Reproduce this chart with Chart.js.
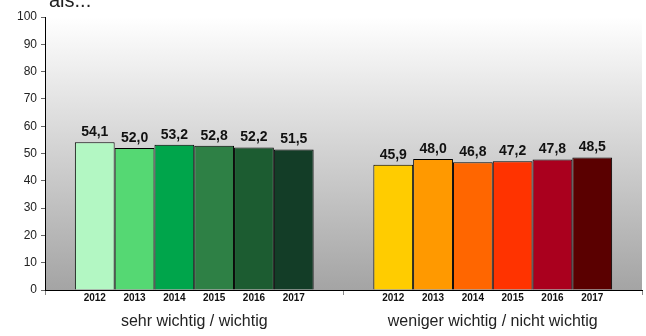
<!DOCTYPE html>
<html lang="de">
<head>
<meta charset="UTF-8">
<title>sehr wichtig / weniger wichtig</title>
<script src="https://cdn.jsdelivr.net/npm/chart.js"></script>
<style>
    html, body { margin: 0; padding: 0; background: #fff; }
    #wrap { position: relative; width: 646px; height: 336px; }
</style>
</head>
<body>
<div id="wrap"><canvas id="chart" width="646" height="336"></canvas></div>
<script>
// data
const categories = ['sehr wichtig / wichtig', 'weniger wichtig / nicht wichtig'];
const years = ['2012', '2013', '2014', '2015', '2016', '2017'];
const wichtig = [54.1, 52.0, 53.2, 52.8, 52.2, 51.5];
const nichtWichtig = [45.9, 48.0, 46.8, 47.2, 47.8, 48.5];
const yTicks = [0, 10, 20, 30, 40, 50, 60, 70, 80, 90, 100];
const greens = ['#b3f7c3', '#55d873', '#00a54b', '#2e8045', '#1c5c31', '#133d27'];
const reds = ['#ffcc00', '#ff9900', '#ff6600', '#ff3300', '#aa001e', '#5a0000'];
const titleText = 'als...';

const datasets = years.map((y, i) => ({
    label: y,
    data: [wichtig[i], nichtWichtig[i]],
    backgroundColor: [greens[i], reds[i]],
    borderColor: '#000',
    borderWidth: 1,
    categoryPercentage: 0.8,
    barPercentage: 1.0
}));

const fmt = v => v.toFixed(1).replace('.', ',');

const bgPlugin = {
    id: 'bg',
    beforeDraw(chart) {
        const { ctx, chartArea: a } = chart;
        const g = ctx.createLinearGradient(0, a.top, 0, a.bottom);
        g.addColorStop(0, '#ffffff');
        g.addColorStop(1, '#a4a4a4');
        ctx.save();
        ctx.fillStyle = g;
        ctx.fillRect(a.left, a.top, a.right - a.left, a.bottom - a.top);
        ctx.fillStyle = '#222';
        ctx.font = '20px "Liberation Sans", Arial, sans-serif';
        ctx.textAlign = 'left';
        ctx.textBaseline = 'alphabetic';
        ctx.fillText(titleText, 49, 7);
        ctx.restore();
    }
};

const labelPlugin = {
    id: 'labels',
    afterDatasetsDraw(chart) {
        const { ctx, chartArea: a } = chart;
        ctx.save();
        ctx.textAlign = 'center';
        chart.data.datasets.forEach((ds, i) => {
            chart.getDatasetMeta(i).data.forEach((bar, j) => {
                ctx.fillStyle = '#111';
                ctx.font = 'bold 14px "Liberation Sans", Arial, sans-serif';
                ctx.textBaseline = 'bottom';
                ctx.fillText(fmt(ds.data[j]), bar.x, bar.y - 3);
                ctx.font = 'bold 10px "Liberation Sans", Arial, sans-serif';
                ctx.textBaseline = 'middle';
                ctx.fillText(ds.label, bar.x, a.bottom + 8);
            });
        });
        ctx.restore();
    }
};

new Chart(document.getElementById('chart'), {
    type: 'bar',
    data: { labels: categories, datasets: datasets },
    options: {
        responsive: false,
        animation: false,
        layout: { padding: { top: 17, right: 4, left: 0, bottom: 0 } },
        plugins: {
            legend: { display: false },
            tooltip: { enabled: false }
        },
        scales: {
            x: {
                grid: { offset: true, drawOnChartArea: false, color: '#888', tickLength: 5 },
                border: { color: '#000', width: 1 },
                ticks: {
                    color: '#222',
                    padding: 17,
                    font: { family: '"Liberation Sans", Arial, sans-serif', size: 16 }
                },
                afterFit(s) { s.height = 46; }
            },
            y: {
                min: 0,
                max: 100,
                afterBuildTicks(s) { s.ticks = yTicks.map(v => ({ value: v })); },
                grid: { drawOnChartArea: false, color: '#666', tickLength: 4 },
                border: { color: '#000', width: 1 },
                ticks: {
                    color: '#222',
                    padding: 4,
                    font: { family: '"Liberation Sans", Arial, sans-serif', size: 12 }
                },
                afterFit(s) { s.width = 45; }
            }
        }
    },
    plugins: [bgPlugin, labelPlugin]
});
</script>
</body>
</html>
